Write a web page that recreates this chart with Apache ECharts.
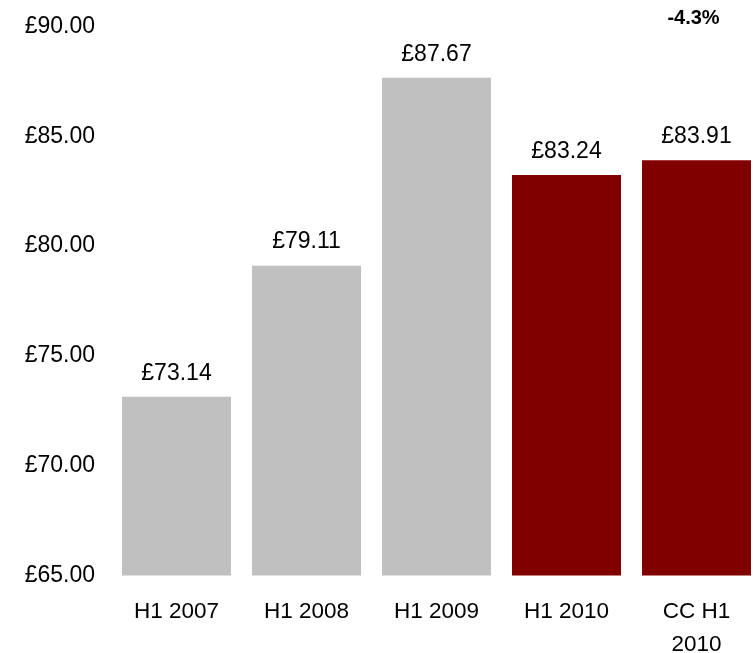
<!DOCTYPE html>
<html>
<head>
<meta charset="utf-8">
<script src="https://cdn.jsdelivr.net/npm/echarts@6/dist/echarts.min.js"></script>
<style>
  html, body { margin: 0; padding: 0; background: #fff; }
  #chart { width: 753px; height: 653px; }
</style>
</head>
<body>
<div id="chart"></div>
<script>
// Periods shown on the category axis
const categories = ['H1 2007', 'H1 2008', 'H1 2009', 'H1 2010', 'CC H1\n2010'];
// Average value per period (£)
const values = [73.14, 79.11, 87.67, 83.24, 83.91];
// Bar fill per period: earlier years grey, 2010 figures maroon
const barColors = ['#C0C0C0', '#C0C0C0', '#C0C0C0', '#800000', '#800000'];
// Value axis range and step
const yMin = 65, yMax = 90, yStep = 5;
// Change note shown above the last bar
const changeNote = '-4.3%';

const FONT = 'Liberation Sans, Arial, sans-serif';

const chart = echarts.init(document.getElementById('chart'), null, { renderer: 'canvas' });
chart.setOption({
  backgroundColor: '#ffffff',
  animation: false,
  grid: { left: 111.5, top: 26.5, width: 650, height: 549, outerBoundsMode: 'none' },
  xAxis: {
    type: 'category',
    data: categories,
    axisLine: { show: false },
    axisTick: { show: false },
    axisLabel: {
      color: '#000', fontFamily: FONT, fontSize: 22.5, lineHeight: 33, margin: 19.5, interval: 0
    }
  },
  yAxis: {
    type: 'value',
    min: yMin, max: yMax, interval: yStep,
    axisLine: { show: false },
    axisTick: { show: false },
    splitLine: { show: false },
    axisLabel: {
      color: '#000', fontFamily: FONT, fontSize: 23, margin: 16.5,
      formatter: v => '£' + v.toFixed(2)
    }
  },
  series: [{
    type: 'bar',
    barWidth: 109,
    data: values.map((v, i) => ({ value: v, itemStyle: { color: barColors[i] } })),
    label: {
      show: true, position: 'top', distance: 12,
      color: '#000', fontFamily: FONT, fontSize: 23,
      formatter: p => '£' + p.value.toFixed(2)
    }
  }],
  graphic: [{
    type: 'text',
    x: 693.5, y: 18.8,
    style: {
      text: changeNote, fill: '#000',
      font: 'bold 20px ' + FONT,
      textAlign: 'center', textVerticalAlign: 'middle'
    }
  }]
});
</script>
</body>
</html>
